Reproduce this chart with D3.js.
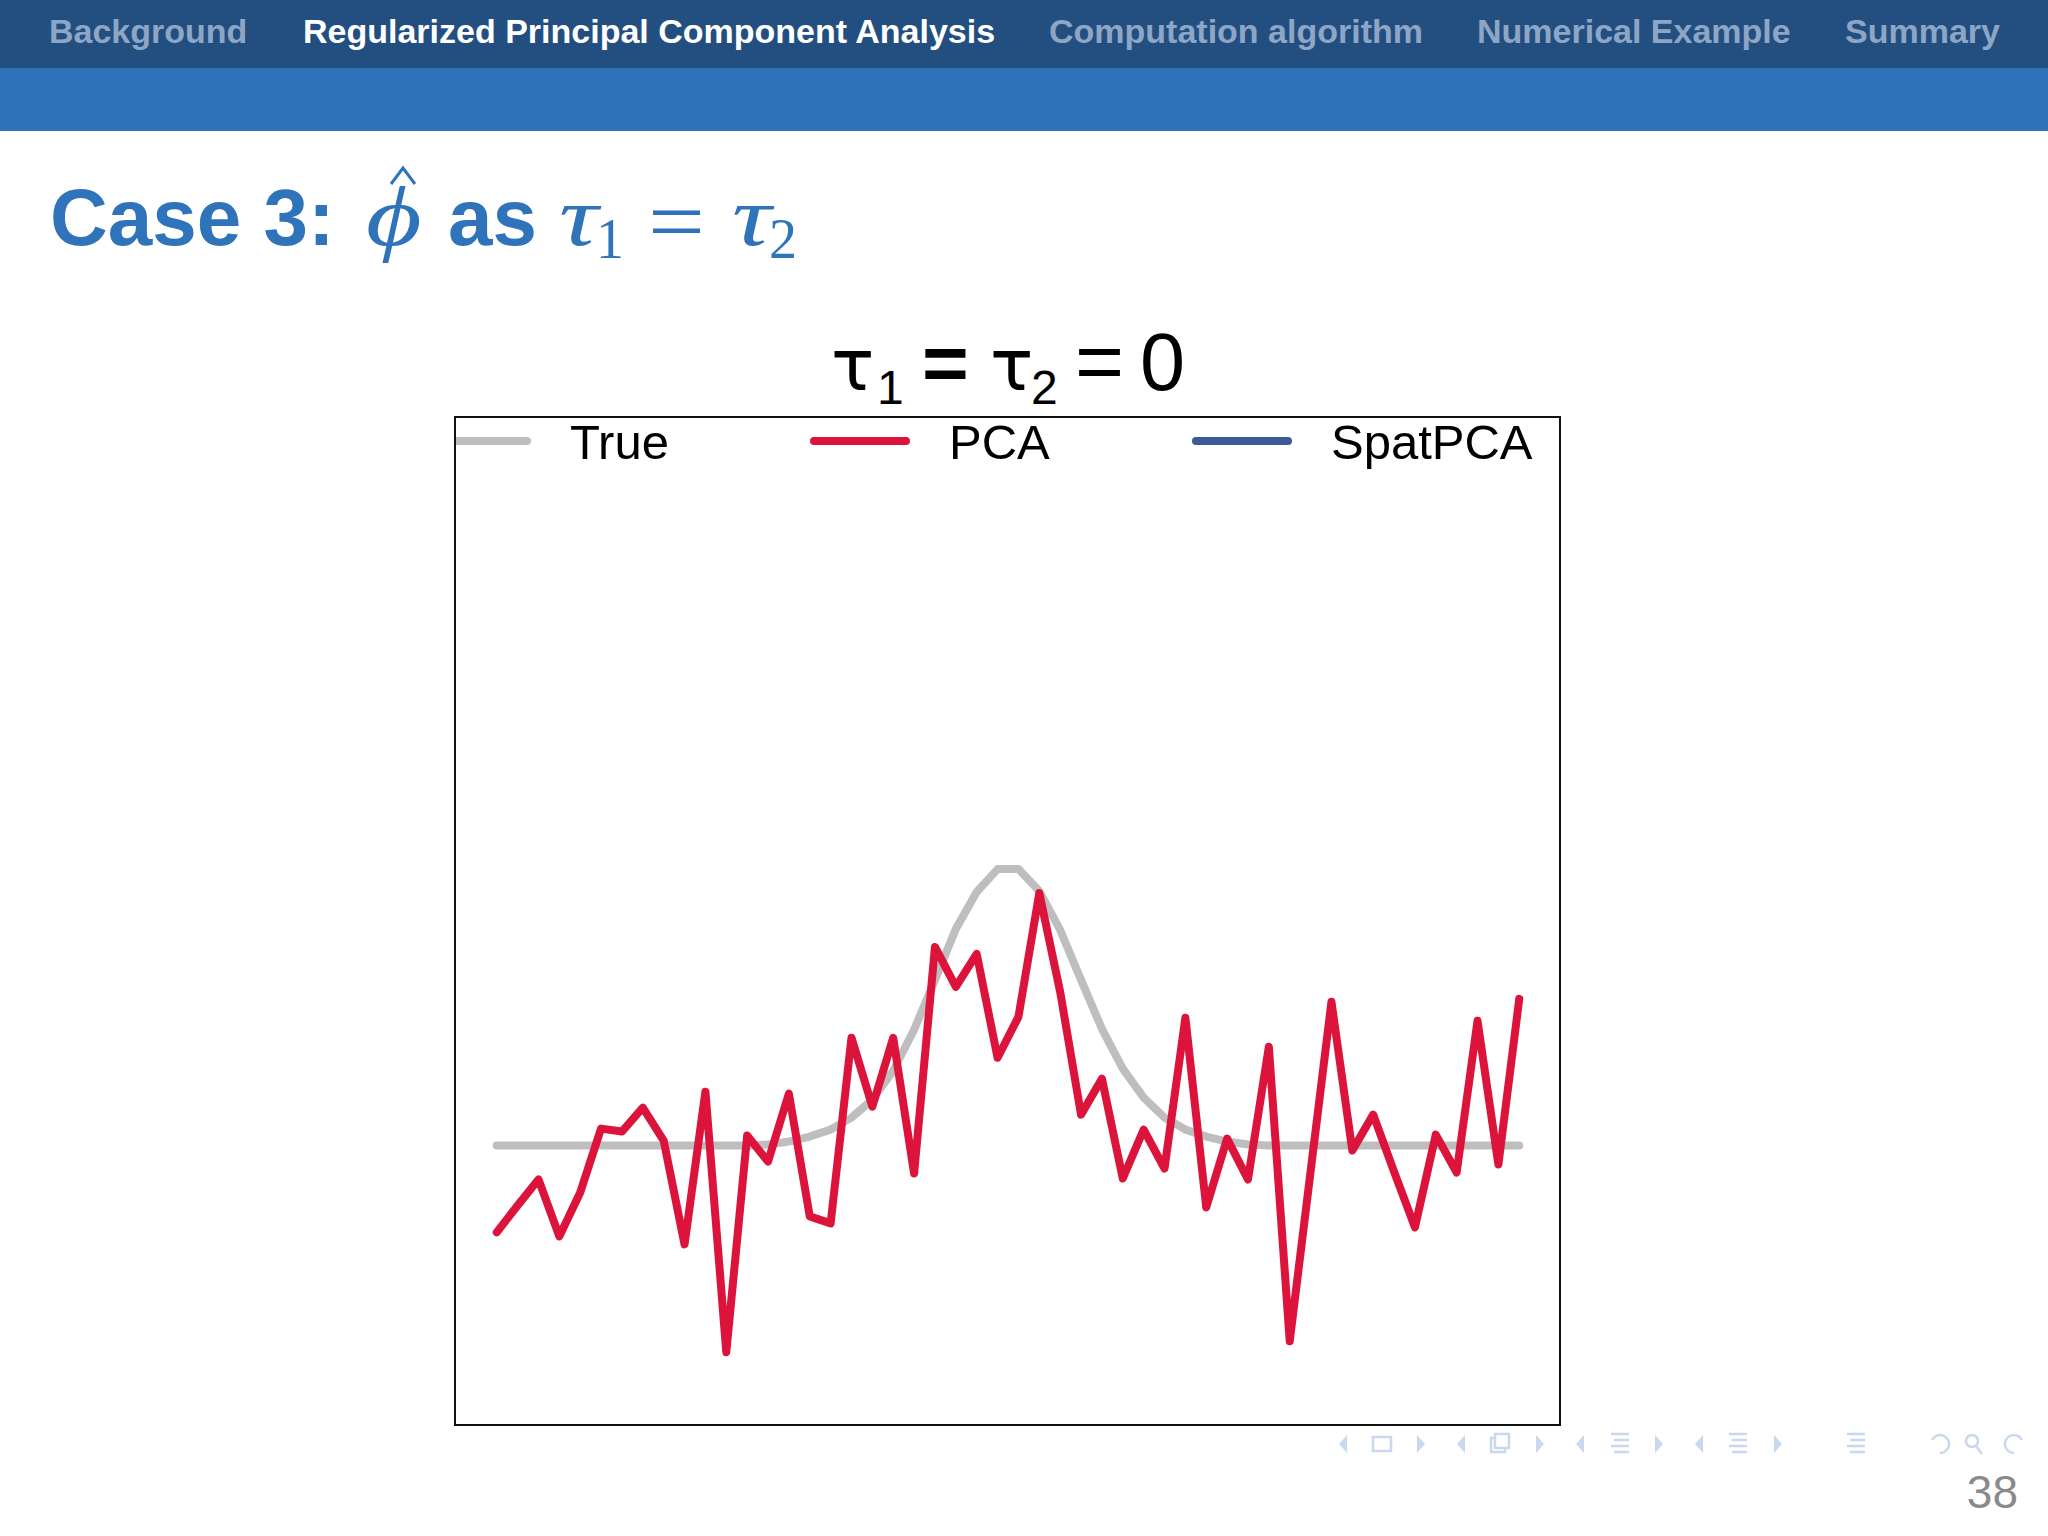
<!DOCTYPE html>
<html>
<head>
<meta charset="utf-8">
<script src="https://cdn.jsdelivr.net/npm/d3@7"></script>
<style>
  html, body { margin: 0; padding: 0; background: #ffffff; }
  svg { display: block; }
</style>
</head>
<body>
<svg id="slide" width="2048" height="1536"></svg>
<script>
// ---------------- data ----------------
const navItems = ["Background", "Regularized Principal Component Analysis", "Computation algorithm", "Numerical Example", "Summary"];
const activeNav = 1;
const locations = d3.range(1, 51);            // 50 spatial locations
const trueValues = [
  0, 0, 0, 0, 0, 0, 0, 0, 0, 0,
  0, 0, 0, 0.001, 0.004, 0.009, 0.016, 0.028, 0.046, 0.075,
  0.116, 0.166, 0.217, 0.254, 0.277, 0.277, 0.255, 0.216, 0.166, 0.117,
  0.077, 0.048, 0.028, 0.016, 0.009, 0.004, 0.001, 0, 0, 0,
  0, 0, 0, 0, 0, 0, 0, 0, 0, 0
];
const pcaValues = [
  -0.087, -0.060, -0.034, -0.091, -0.047, 0.017, 0.014, 0.038, 0.005, -0.099,
  0.054, -0.207, 0.010, -0.016, 0.052, -0.071, -0.078, 0.108, 0.039, 0.108,
  -0.028, 0.199, 0.159, 0.192, 0.088, 0.129, 0.253, 0.154, 0.031, 0.067,
  -0.033, 0.016, -0.023, 0.128, -0.062, 0.007, -0.034, 0.099, -0.196, -0.026,
  0.144, -0.005, 0.031, -0.026, -0.082, 0.011, -0.027, 0.125, -0.019, 0.147
];
const legendLabels = ["True", "PCA", "SpatPCA"];
const seriesColors = ["#bebebe", "#dc143c", "#3d5a98"];
const pageNumber = "38";

// ---------------- slide frame ----------------
const svg = d3.select("#slide");
svg.append("rect").attr("x", 0).attr("y", 0).attr("width", 2048).attr("height", 1536).attr("fill", "#ffffff");
svg.append("rect").attr("x", 0).attr("y", 0).attr("width", 2048).attr("height", 68).attr("fill", "#234f80");
svg.append("rect").attr("x", 0).attr("y", 68).attr("width", 2048).attr("height", 63).attr("fill", "#2e72bc");

const navX = [49, 303, 1049, 1477, 1845];
svg.append("g").selectAll("text").data(navItems).join("text")
  .attr("x", (d, i) => navX[i]).attr("y", 43)
  .attr("font-family", "Liberation Sans, Arial, sans-serif")
  .attr("font-weight", "bold").attr("font-size", 34)
  .attr("fill", (d, i) => i === activeNav ? "#ffffff" : "#8ea6c5")
  .text(d => d);

// slide title: Case 3: phi-hat as tau1 = tau2
const titleColor = "#2f73ba";
const mathFont = "Liberation Serif, DejaVu Serif, serif";
const sansFont = "Liberation Sans, Arial, sans-serif";
const tg = svg.append("g").attr("fill", titleColor);
tg.append("text").attr("x", 50).attr("y", 245)
  .attr("font-family", sansFont).attr("font-weight", "bold").attr("font-size", 80)
  .text("Case 3:");
tg.append("text").attr("transform", "translate(366,245) scale(1.28,1)")
  .attr("font-family", mathFont).attr("font-style", "italic").attr("font-size", 84)
  .text("ϕ");
tg.append("path").attr("d", "M391,184 L403,168 L415,184").attr("fill", "none").attr("stroke", titleColor).attr("stroke-width", 3);
tg.append("text").attr("x", 448).attr("y", 245)
  .attr("font-family", sansFont).attr("font-weight", "bold").attr("font-size", 80)
  .text("as");
tg.append("text").attr("transform", "translate(559,245) scale(1.3,1)").attr("font-family", mathFont).attr("font-style", "italic").attr("font-size", 84).text("τ");
tg.append("text").attr("x", 596).attr("y", 258).attr("font-family", mathFont).attr("font-size", 56).text("1");
tg.append("text").attr("x", 648).attr("y", 251).attr("font-family", mathFont).attr("font-size", 88).attr("textLength", 57).attr("lengthAdjust", "spacingAndGlyphs").text("=");
tg.append("text").attr("transform", "translate(732,245) scale(1.3,1)").attr("font-family", mathFont).attr("font-style", "italic").attr("font-size", 84).text("τ");
tg.append("text").attr("x", 769).attr("y", 258).attr("font-family", mathFont).attr("font-size", 56).text("2");

// ---------------- chart ----------------
const box = { left: 455, top: 417, right: 1560, bottom: 1425 };
const x = d3.scaleLinear().domain([-1, 52]).range([box.left, box.right + 1]);
const y = d3.scaleLinear().domain([-0.28, 0.73]).range([box.bottom, box.top]);

svg.append("defs").append("clipPath").attr("id", "plotclip")
  .append("rect").attr("x", box.left).attr("y", box.top)
  .attr("width", box.right - box.left).attr("height", box.bottom - box.top);

const chart = svg.append("g");

// chart title  tau1 = tau2 = 0  (separate pieces so subscripts do not collide)
const tf = "DejaVu Sans, sans-serif";
const pieces = [
  { t: "τ", x: 831, y: 390, f: tf, s: 72, w: "normal" },
  { t: "1", x: 877, y: 404, f: sansFont, s: 48, w: "normal" },
  { t: "=", x: 922, y: 390, f: sansFont, s: 80, w: "bold" },
  { t: "τ", x: 990, y: 390, f: tf, s: 72, w: "normal" },
  { t: "2", x: 1031, y: 404, f: sansFont, s: 48, w: "normal" },
  { t: "=", x: 1075, y: 390, f: sansFont, s: 84, w: "normal" },
  { t: "0", x: 1140, y: 390, f: sansFont, s: 81, w: "normal" }
];
chart.append("g").selectAll("text").data(pieces).join("text")
  .attr("x", d => d.x).attr("y", d => d.y)
  .attr("font-family", d => d.f).attr("font-size", d => d.s).attr("font-weight", d => d.w)
  .attr("fill", "#000").text(d => d.t);

const line = d3.line().x((d, i) => x(locations[i])).y(d => y(d));
const plot = chart.append("g").attr("clip-path", "url(#plotclip)");

plot.append("path").datum(trueValues)
  .attr("d", line).attr("fill", "none")
  .attr("stroke", seriesColors[0]).attr("stroke-width", 8)
  .attr("stroke-linecap", "round").attr("stroke-linejoin", "round");
plot.append("path").datum(pcaValues)
  .attr("d", line).attr("fill", "none")
  .attr("stroke", seriesColors[1]).attr("stroke-width", 8)
  .attr("stroke-linecap", "round").attr("stroke-linejoin", "round");

// legend (inside top of box)
const legendTextX = [570, 949, 1331];
const lg = plot.append("g");
legendLabels.forEach((lab, i) => {
  lg.append("line")
    .attr("x1", legendTextX[i] - 135).attr("x2", legendTextX[i] - 43)
    .attr("y1", 441).attr("y2", 441)
    .attr("stroke", seriesColors[i]).attr("stroke-width", 8).attr("stroke-linecap", "round");
  lg.append("text").attr("x", legendTextX[i]).attr("y", 459)
    .attr("font-family", sansFont).attr("font-size", 49)
    .attr("fill", "#000").text(lab);
});

// box
chart.append("rect").attr("x", box.left).attr("y", box.top)
  .attr("width", box.right - box.left).attr("height", box.bottom - box.top)
  .attr("fill", "none").attr("stroke", "#111").attr("stroke-width", 2);

// ---------------- beamer navigation symbols ----------------
const navColor = "#c8d9ef";
const ng = svg.append("g").attr("fill", navColor).attr("stroke", navColor);
function triL(cx) { ng.append("path").attr("d", `M${cx + 4},1435 L${cx - 4},1444 L${cx + 4},1453 Z`).attr("stroke", "none"); }
function triR(cx) { ng.append("path").attr("d", `M${cx - 4},1435 L${cx + 4},1444 L${cx - 4},1453 Z`).attr("stroke", "none"); }
function lines3(cx) {
  [1434, 1440, 1446, 1452].forEach((yy, k) => ng.append("line").attr("x1", cx - 9 + (k % 2) * 3).attr("x2", cx + 9).attr("y1", yy).attr("y2", yy).attr("stroke-width", 2.5));
}
triL(1343); ng.append("rect").attr("x", 1373).attr("y", 1437).attr("width", 18).attr("height", 14).attr("fill", "none").attr("stroke-width", 2.5); triR(1421);
triL(1461); ng.append("rect").attr("x", 1491).attr("y", 1438).attr("width", 14).attr("height", 14).attr("fill", "#fff").attr("stroke-width", 2.5);
ng.append("rect").attr("x", 1495).attr("y", 1434).attr("width", 14).attr("height", 14).attr("fill", "#fff").attr("stroke-width", 2.5); triR(1540);
triL(1580); lines3(1620); triR(1659);
triL(1699); lines3(1738); triR(1778);
lines3(1856);
ng.append("path").attr("d", "M1932,1440 A9,9 0 1 1 1940,1453").attr("fill", "none").attr("stroke-width", 2.5);
ng.append("circle").attr("cx", 1972).attr("cy", 1441).attr("r", 6).attr("fill", "none").attr("stroke-width", 2.5);
ng.append("line").attr("x1", 1976).attr("y1", 1446).attr("x2", 1982).attr("y2", 1454).attr("stroke-width", 2.5);
ng.append("path").attr("d", "M2022,1440 A9,9 0 1 0 2014,1453").attr("fill", "none").attr("stroke-width", 2.5);

svg.append("text").attr("x", 2018).attr("y", 1508).attr("text-anchor", "end")
  .attr("font-family", sansFont).attr("font-size", 46)
  .attr("fill", "#8a8a8a").text(pageNumber);
</script>
</body>
</html>
